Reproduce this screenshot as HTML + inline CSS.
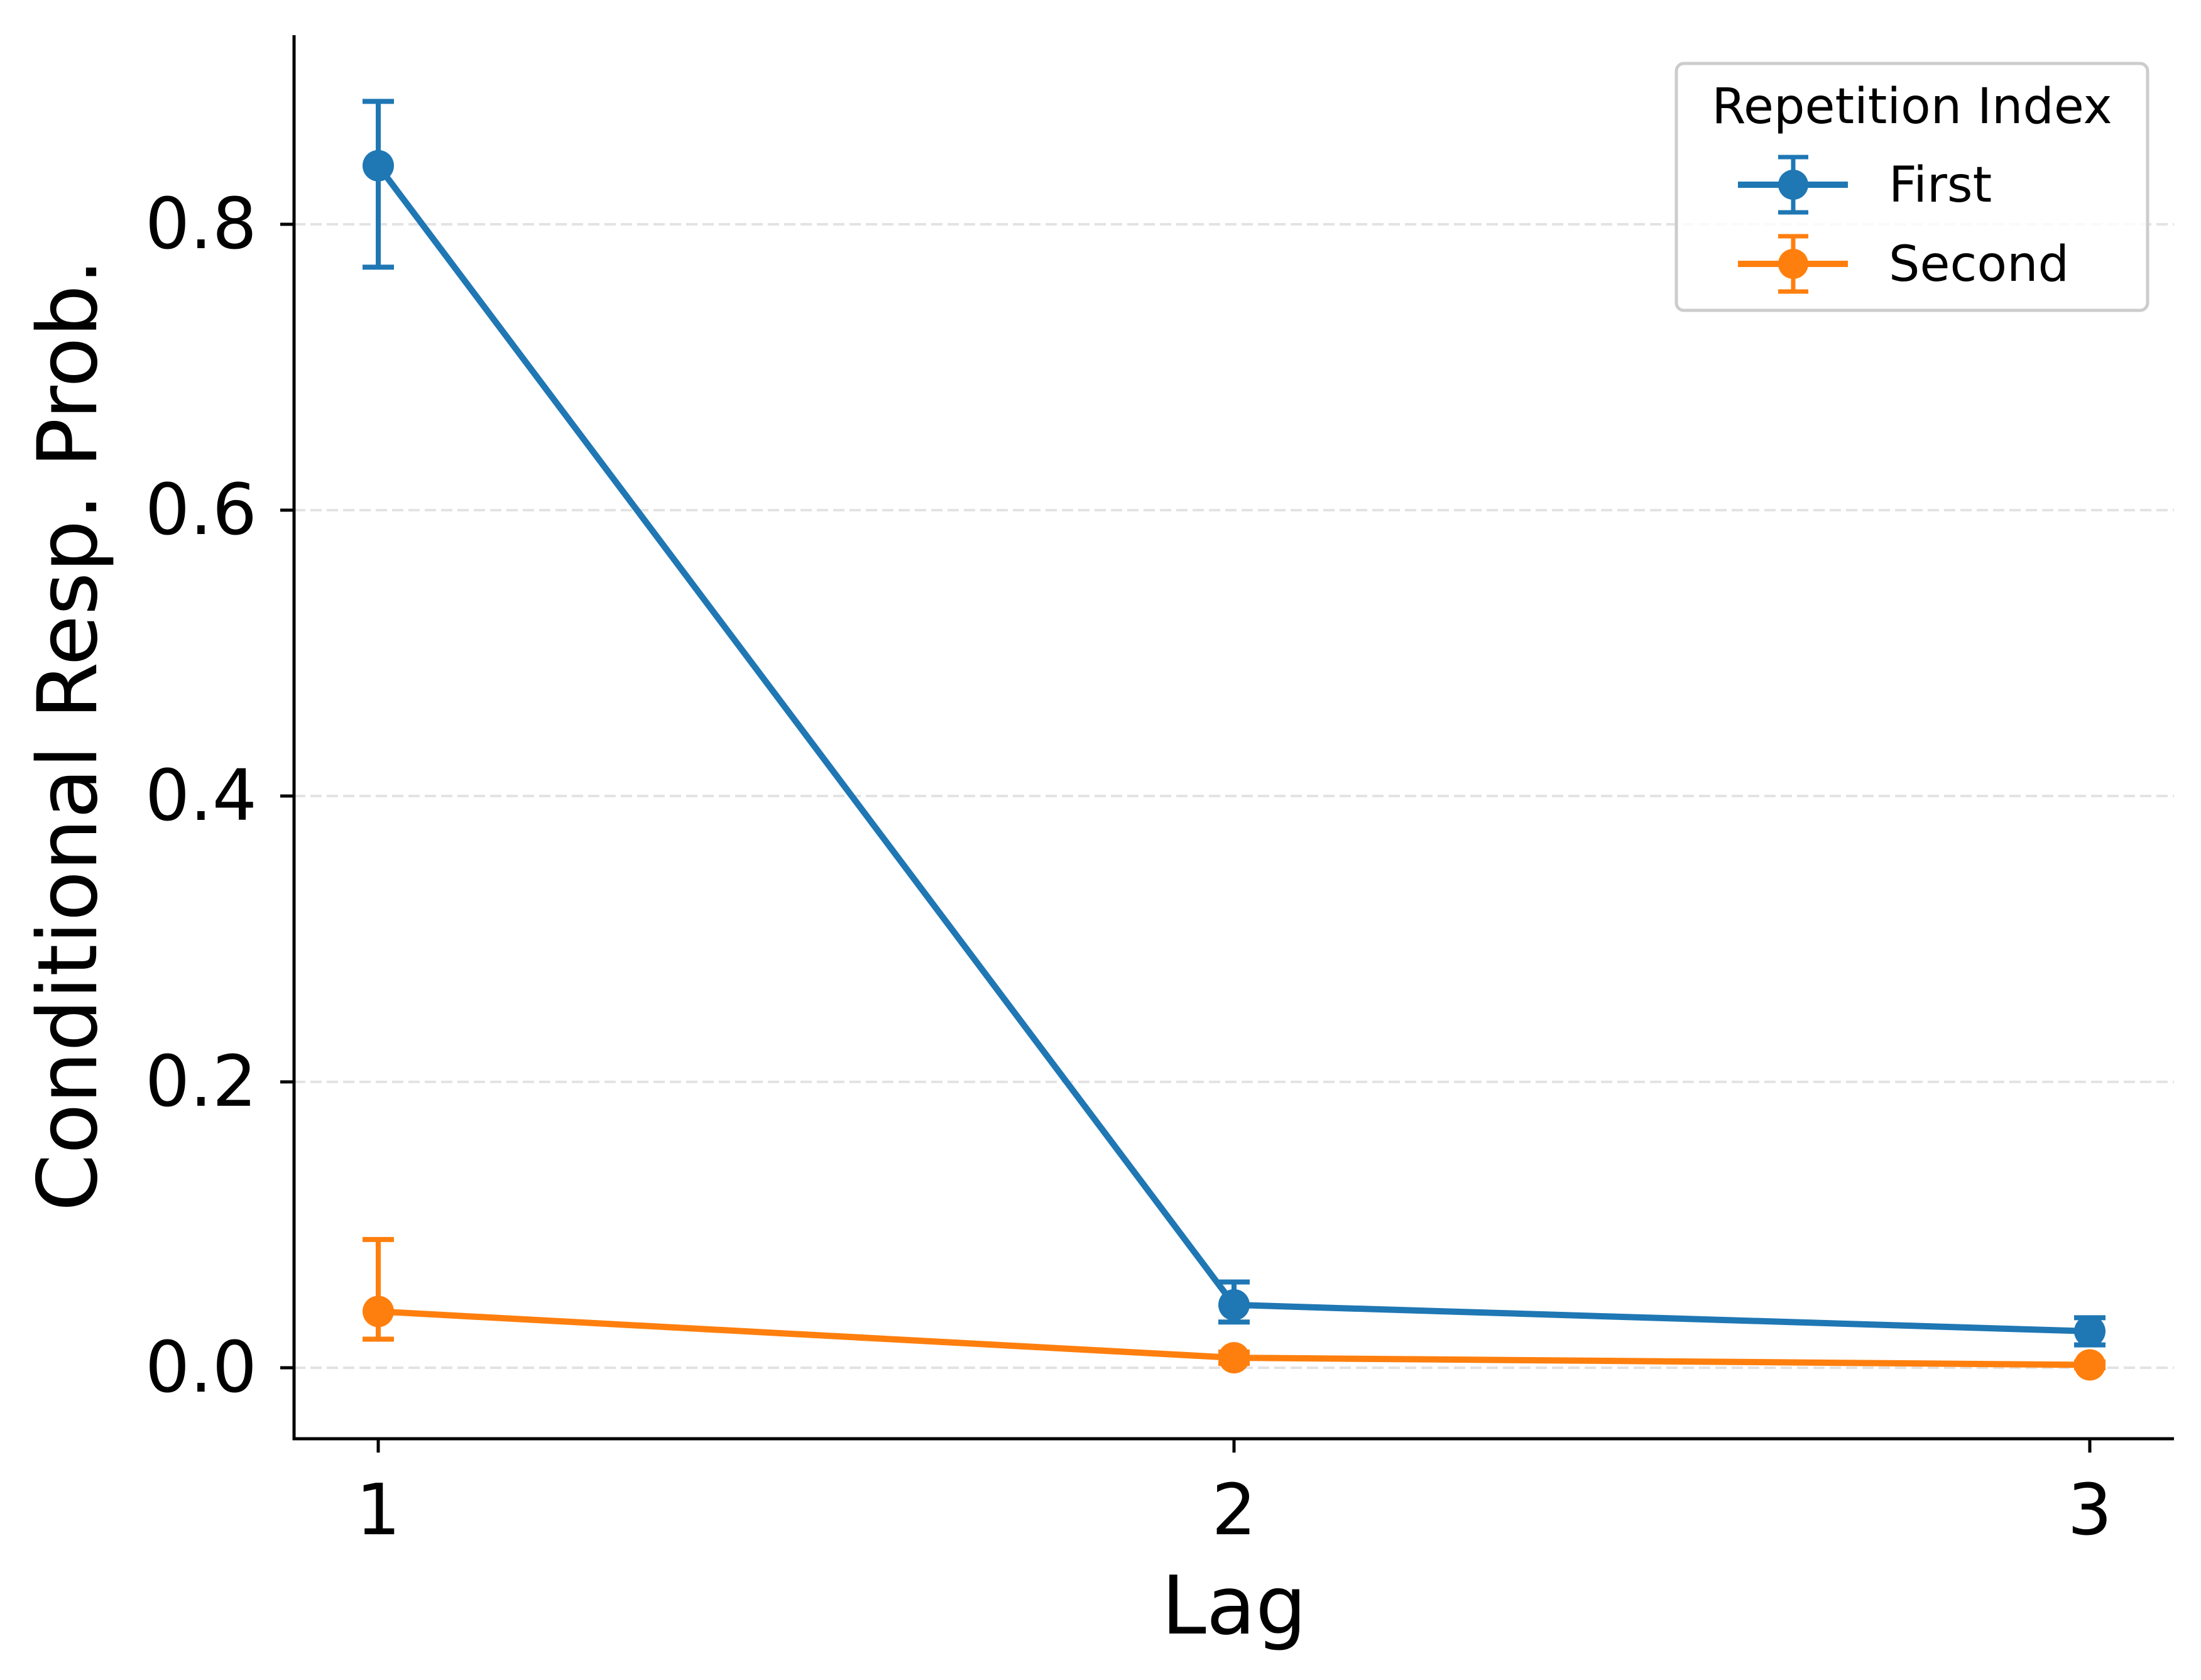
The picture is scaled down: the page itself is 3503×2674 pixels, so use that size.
<!DOCTYPE html>
<html><head><meta charset="utf-8"><style>html,body{margin:0;padding:0;background:#fff}svg{display:block}</style></head>
<body>
<svg id="chart" width="3503" height="2674" viewBox="0 0 3503 2674" xmlns="http://www.w3.org/2000/svg" font-family="'DejaVu Sans', 'Liberation Sans', sans-serif">
<rect width="3503" height="2674" fill="#fff"/>
<g id="grid"></g>
<g id="series"></g>
<g id="axes"></g>
<text x="117" y="1170" font-size="131" text-anchor="middle" dominant-baseline="middle" transform="rotate(-90 117 1170)">Conditional Resp. Prob.</text>
<text x="1964" y="2600" font-size="128" text-anchor="middle">Lag</text>
<g>
<rect x="2668" y="101" width="750" height="393" rx="12" fill="#fff" fill-opacity="0.8" stroke="#ccc" stroke-width="5"/>
<text x="3043" y="196" font-size="78" text-anchor="middle">Repetition Index</text>
<g>
<line x1="2766" y1="294" x2="2941" y2="294" stroke="#1f77b4" stroke-width="10"/>
<line x1="2854" y1="250" x2="2854" y2="338" stroke="#1f77b4" stroke-width="7"/>
<line x1="2830" y1="250" x2="2878" y2="250" stroke="#1f77b4" stroke-width="7"/>
<line x1="2830" y1="338" x2="2878" y2="338" stroke="#1f77b4" stroke-width="7"/>
<circle cx="2854" cy="294" r="24" fill="#1f77b4"/>
<text x="3006" y="321" font-size="78">First</text>
</g>
<g>
<line x1="2766" y1="420" x2="2941" y2="420" stroke="#ff7f0e" stroke-width="10"/>
<line x1="2854" y1="376" x2="2854" y2="464" stroke="#ff7f0e" stroke-width="7"/>
<line x1="2830" y1="376" x2="2878" y2="376" stroke="#ff7f0e" stroke-width="7"/>
<line x1="2830" y1="464" x2="2878" y2="464" stroke="#ff7f0e" stroke-width="7"/>
<circle cx="2854" cy="420" r="24" fill="#ff7f0e"/>
<text x="3006" y="447" font-size="78">Second</text>
</g>
</g>
</svg>
<script>
const lags = [1, 2, 3];
const firstMean = [0.841, 0.044, 0.0255];
const firstLow = [0.770, 0.032, 0.016];
const firstHigh = [0.886, 0.060, 0.035];
const secondMean = [0.0394, 0.007, 0.002];
const secondLow = [0.020, 0.003, 0.000];
const secondHigh = [0.0897, 0.011, 0.004];
const yTicks = [0.0, 0.2, 0.4, 0.6, 0.8];
const yTickLabels = ["0.0", "0.2", "0.4", "0.6", "0.8"];
const xTickLabels = ["1", "2", "3"];

const NS = "http://www.w3.org/2000/svg";
const L = 468, R = 3460, T = 56, B = 2290;
function xs(v){ return 602 + (v - 1) * 1362; }
function ys(v){ return 2177 - v * 2275; }
function mk(tag, attrs, parent){
  const e = document.createElementNS(NS, tag);
  for (const k in attrs) e.setAttribute(k, attrs[k]);
  parent.appendChild(e); return e;
}
const grid = document.getElementById('grid');
const axes = document.getElementById('axes');
const series = document.getElementById('series');

yTicks.forEach((t, i) => {
  const g = mk('line', {x1: L, x2: R, y1: ys(t), y2: ys(t), stroke: '#e3e3e3', 'stroke-width': 4, 'stroke-dasharray': '18 8'}, grid);
  
  
  const tk = mk('line', {x1: L - 22, x2: L, y1: ys(t), y2: ys(t), stroke: '#000', 'stroke-width': 5}, axes);
  
  
  const tx = mk('text', {x: 409, y: ys(t), 'font-size': 112, 'text-anchor': 'end', 'dominant-baseline': 'central'}, axes);
  tx.textContent = yTickLabels[i];
  
  
});
lags.forEach((v, i) => {
  const tk = mk('line', {x1: xs(v), x2: xs(v), y1: B, y2: B + 22, stroke: '#000', 'stroke-width': 5}, axes);
  
  
  const tx = mk('text', {x: xs(v), y: 2442, 'font-size': 112, 'text-anchor': 'middle'}, axes);
  tx.textContent = xTickLabels[i];
  
  
});
const sp1 = mk('line', {x1: L, x2: L, y1: T, y2: B + 2.5, stroke: '#000', 'stroke-width': 5}, axes);


const sp2 = mk('line', {x1: L - 2.5, x2: R, y1: B, y2: B, stroke: '#000', 'stroke-width': 5}, axes);



function drawSeries(mean, lo, hi, color, name){
  const g = mk('g', {}, series);
  
  
  const pts = lags.map((v, i) => xs(v) + ',' + ys(mean[i])).join(' ');
  const pl = mk('polyline', {points: pts, fill: 'none', stroke: color, 'stroke-width': 10, 'stroke-linejoin': 'round'}, g);
  
  
  lags.forEach((v, i) => {
    const x = xs(v);
    const eb = mk('path', {d: `M${x},${ys(hi[i])}V${ys(lo[i])}M${x-25},${ys(hi[i])}H${x+25}M${x-25},${ys(lo[i])}H${x+25}`, stroke: color, 'stroke-width': 8, fill: 'none'}, g);
    
    
    const c = mk('circle', {cx: x, cy: ys(mean[i]), r: 25, fill: color}, g);
    
    
  });
}
drawSeries(firstMean, firstLow, firstHigh, '#1f77b4', 'first');
drawSeries(secondMean, secondLow, secondHigh, '#ff7f0e', 'second');
</script>
</body></html>
